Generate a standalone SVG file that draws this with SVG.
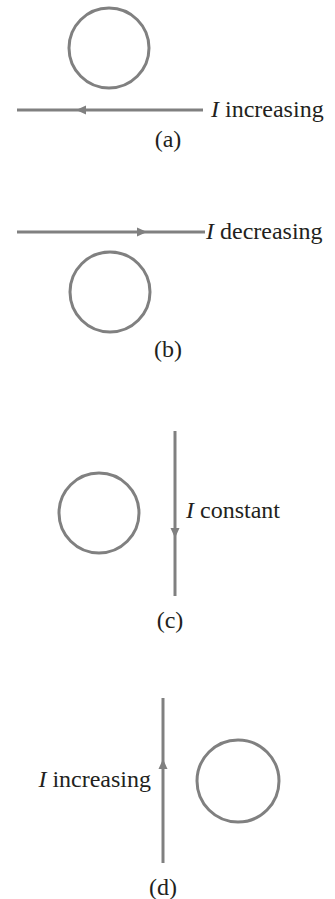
<svg xmlns="http://www.w3.org/2000/svg" width="335" height="899" viewBox="0 0 335 899">
<style>
.loop{fill:none;stroke:#808080;stroke-width:3}
.wire{fill:none;stroke:#808080;stroke-width:3}
.head{fill:#808080;stroke:none}
text{font-family:"Liberation Serif","Times New Roman",serif;font-size:24px;fill:#231f20}
.it{font-style:italic}
</style>
<rect width="335" height="899" fill="#ffffff"/>
<g id="connectors">
<line class="wire" x1="17" y1="110" x2="203" y2="110"/>
<polygon class="head" points="76,110 86,105.5 86,114.5"/>
<line class="wire" x1="17" y1="232" x2="205" y2="232"/>
<polygon class="head" points="147,232 137,227.5 137,236.5"/>
<line class="wire" x1="175" y1="431" x2="175" y2="596"/>
<polygon class="head" points="175,538 170.5,528 179.5,528"/>
<line class="wire" x1="163" y1="698" x2="163" y2="863"/>
<polygon class="head" points="163,759 158.5,769 167.5,769"/>
</g>
<g id="a">
<circle class="loop" cx="109" cy="48" r="40"/>
<text x="211" y="117"><tspan class="it">I</tspan> increasing</text>
<text x="168" y="147" text-anchor="middle">(a)</text>
</g>
<g id="b">
<circle class="loop" cx="110" cy="292" r="40"/>
<text x="206" y="239"><tspan class="it">I</tspan> decreasing</text>
<text x="168" y="357" text-anchor="middle">(b)</text>
</g>
<g id="c">
<circle class="loop" cx="99" cy="513" r="40"/>
<text x="186" y="518"><tspan class="it">I</tspan> constant</text>
<text x="170" y="628" text-anchor="middle">(c)</text>
</g>
<g id="d">
<circle class="loop" cx="238" cy="781" r="41"/>
<text x="151" y="787" text-anchor="end"><tspan class="it">I</tspan> increasing</text>
<text x="163" y="895" text-anchor="middle">(d)</text>
</g>
</svg>
